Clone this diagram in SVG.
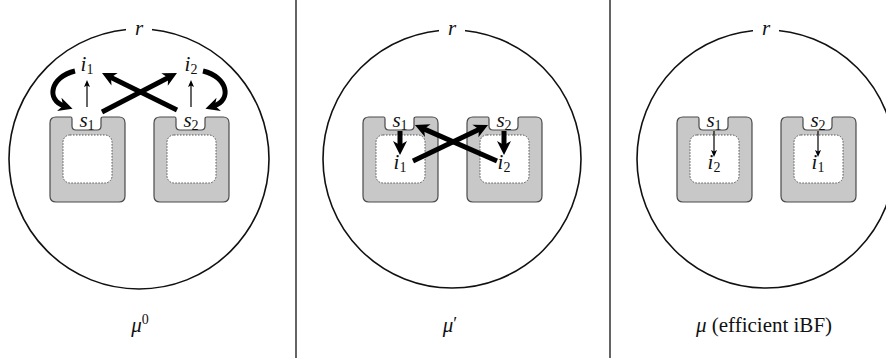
<svg xmlns="http://www.w3.org/2000/svg" width="886" height="360" viewBox="0 0 886 360">
<style>
.ring{fill:none;stroke:#111;stroke-width:1.6}
.gap{fill:#fff;stroke:none}
.box{fill:#c8c8c8;stroke:#4a4a4a;stroke-width:1.2}
.inner{fill:#fff;stroke:#555;stroke-width:1;stroke-dasharray:1.5 1.5}
.thick{fill:none;stroke:#000;stroke-width:5}
.thin{fill:none;stroke:#000;stroke-width:1.2}
.div{stroke:#111;stroke-width:1.3}
text{font-family:"Liberation Serif","DejaVu Serif",serif;font-size:21px;font-style:italic;fill:#111;text-anchor:middle}
tspan.n{font-style:normal;font-size:14px}
</style>
<defs>
<marker id="big" markerUnits="userSpaceOnUse" viewBox="-2 -10 20 20" refX="5" refY="0" markerWidth="20" markerHeight="20" orient="auto">
<path d="M0,-7 L14,0 L0,7 L4,0 Z" fill="#000"/>
</marker>
<marker id="small" markerUnits="userSpaceOnUse" viewBox="-1 -5 10 10" refX="3" refY="0" markerWidth="10" markerHeight="10" orient="auto">
<path d="M0,-3 L7,0 L0,3 L1.5,0 Z" fill="#000"/>
</marker>
<path id="boxshape" d="M6,0 H21 Q22,0 22,2 V9 Q22,13 26,13 H47 Q51,13 51,9 V2 Q51,0 53,0 H69 Q75,0 75,6 V79 Q75,85 69,85 H6 Q0,85 0,79 V6 Q0,0 6,0 Z"/>
</defs>
<rect width="886" height="360" fill="#fff"/>

<g id="dividers">
<line class="div" x1="296" y1="0" x2="296" y2="358"/>
<line class="div" x1="610" y1="0" x2="610" y2="358"/>
</g>

<!-- Panel 1 -->
<g id="p1-region">
<circle class="ring" cx="139" cy="159" r="130"/>
<rect class="gap" x="126" y="22" width="26" height="14"/>
<text x="139" y="35">r</text>
</g>
<g id="p1-box1" transform="translate(50,117)">
<use href="#boxshape" class="box"/>
<rect class="inner" x="13" y="18" width="49" height="48" rx="7"/>
<text x="37" y="10">s<tspan class="n" dy="3">1</tspan></text>
</g>
<g id="p1-box2" transform="translate(154,117)">
<use href="#boxshape" class="box"/>
<rect class="inner" x="13" y="18" width="49" height="48" rx="7"/>
<text x="37" y="10">s<tspan class="n" dy="3">2</tspan></text>
</g>
<g id="p1-i1"><text x="87" y="71">i<tspan class="n" dy="3">1</tspan></text></g>
<g id="p1-i2"><text x="191" y="71">i<tspan class="n" dy="3">2</tspan></text></g>

<!-- Panel 2 -->
<g id="p2-region">
<circle class="ring" cx="452" cy="159" r="129"/>
<rect class="gap" x="439" y="22" width="26" height="14"/>
<text x="452" y="35">r</text>
</g>
<g id="p2-box1" transform="translate(363,117)">
<use href="#boxshape" class="box"/>
<rect class="inner" x="13" y="18" width="49" height="48" rx="7"/>
<text x="37" y="10">s<tspan class="n" dy="3">1</tspan></text>
<text x="37" y="52">i<tspan class="n" dy="3">1</tspan></text>
</g>
<g id="p2-box2" transform="translate(467,117)">
<use href="#boxshape" class="box"/>
<rect class="inner" x="13" y="18" width="49" height="48" rx="7"/>
<text x="37" y="10">s<tspan class="n" dy="3">2</tspan></text>
<text x="37" y="52">i<tspan class="n" dy="3">2</tspan></text>
</g>

<!-- Panel 3 -->
<g id="p3-region">
<circle class="ring" cx="766" cy="159" r="129"/>
<rect class="gap" x="753" y="22" width="26" height="14"/>
<text x="766" y="35">r</text>
</g>
<g id="p3-box1" transform="translate(677,117)">
<use href="#boxshape" class="box"/>
<rect class="inner" x="13" y="18" width="49" height="48" rx="7"/>
<text x="37" y="10">s<tspan class="n" dy="3">1</tspan></text>
<text x="37" y="52">i<tspan class="n" dy="3">2</tspan></text>
</g>
<g id="p3-box2" transform="translate(781,117)">
<use href="#boxshape" class="box"/>
<rect class="inner" x="13" y="18" width="49" height="48" rx="7"/>
<text x="37" y="10">s<tspan class="n" dy="3">2</tspan></text>
<text x="37" y="52">i<tspan class="n" dy="3">1</tspan></text>
</g>

<g id="captions">
<text x="140" y="332" style="font-size:21px">μ<tspan class="n" dy="-8">0</tspan></text>
<text x="450" y="332" style="font-size:21px">μ<tspan style="font-style:normal;font-size:18px" dy="-2">′</tspan></text>
<text x="764" y="332" style="font-size:21px">μ <tspan style="font-style:normal">(efficient iBF)</tspan></text>
</g>

<g id="connectors">
<!-- panel 1 -->
<line class="thin" x1="87" y1="107" x2="87" y2="84" marker-end="url(#small)"/>
<line class="thin" x1="191" y1="107" x2="191" y2="84" marker-end="url(#small)"/>
<path class="thick" d="M75,71 C50,77 46,100 64,106" marker-end="url(#big)"/>
<path class="thick" d="M203,71 C228,77 232,100 214,106" marker-end="url(#big)"/>
<line class="thick" x1="102" y1="112" x2="169" y2="77.2" marker-end="url(#big)"/>
<line class="thick" x1="177" y1="110" x2="110.1" y2="77" marker-end="url(#big)"/>
<!-- panel 2 -->
<line class="thick" x1="400" y1="131" x2="400" y2="146" marker-end="url(#big)"/>
<line class="thick" x1="504" y1="131" x2="504" y2="146" marker-end="url(#big)"/>
<line class="thick" x1="413" y1="161" x2="479.9" y2="128.9" marker-end="url(#big)"/>
<line class="thick" x1="497" y1="161" x2="423.2" y2="128.6" marker-end="url(#big)"/>
<!-- panel 3 -->
<line class="thin" x1="714" y1="131" x2="714" y2="153" marker-end="url(#small)"/>
<line class="thin" x1="818" y1="131" x2="818" y2="153" marker-end="url(#small)"/>
</g>
</svg>
